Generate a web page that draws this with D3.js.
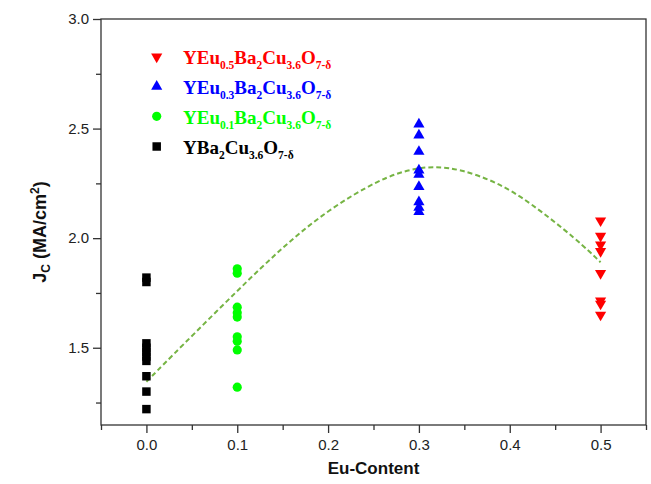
<!DOCTYPE html>
<html><head><meta charset="utf-8">
<script src="https://cdn.jsdelivr.net/npm/d3@7"></script>
<style>body{margin:0;background:#fff}</style>
</head><body>
<svg id="c" width="651" height="484"></svg>
<script>
const xTicks = [0.0, 0.1, 0.2, 0.3, 0.4, 0.5];
const yTicks = [1.5, 2.0, 2.5, 3.0];
const blackX = 0.0;
const blackY = [1.82, 1.80, 1.52, 1.50, 1.48, 1.46, 1.44, 1.37, 1.30, 1.22];
const greenX = 0.1;
const greenY = [1.86, 1.84, 1.685, 1.66, 1.64, 1.55, 1.53, 1.49, 1.32];
const blueX = 0.3;
const blueY = [2.52, 2.47, 2.395, 2.31, 2.29, 2.235, 2.165, 2.14, 2.12];
const redX = 0.5;
const redY = [2.08, 2.01, 1.97, 1.94, 1.84, 1.715, 1.70, 1.65];
const fitX = [0, 0.037, 0.1, 0.15, 0.2, 0.257, 0.293, 0.318, 0.345, 0.385, 0.422, 0.475, 0.5];
const fitY = [1.345, 1.50, 1.76, 1.96, 2.13, 2.27, 2.318, 2.327, 2.315, 2.258, 2.165, 1.99, 1.89];

const svg = d3.select("#c");
const L = 101, R = 646, T = 19, B = 425;
const x = d3.scaleLinear().domain([-0.05, 0.55]).range([L, R]);
const y = d3.scaleLinear().domain([1.1475, 3.0]).range([B, T]);
const axisColor = "#333";

// fit curve
const fit = fitX.map((v, i) => [v, fitY[i]]);
svg.append("path").datum(fit)
  .attr("d", d3.line().x(d => x(d[0])).y(d => y(d[1])).curve(d3.curveBasis))
  .attr("fill", "none").attr("stroke", "#76b444").attr("stroke-width", 2)
  .attr("stroke-dasharray", "5,3");

// axes
const xAxis = d3.axisBottom(x).tickValues(xTicks).tickFormat(d3.format(".1f")).tickSize(8).tickPadding(6);
const xMinor = d3.axisBottom(x).tickValues([-0.05, 0.05, 0.15, 0.25, 0.35, 0.45, 0.55]).tickFormat("").tickSize(5);
const yAxis = d3.axisLeft(y).tickValues(yTicks).tickFormat(d3.format(".1f")).tickSize(8).tickPadding(4);
const yMinor = d3.axisLeft(y).tickValues([1.25, 1.75, 2.25, 2.75]).tickFormat("").tickSize(5);

function style(g) {
  g.select(".domain").remove();
  g.selectAll("line").attr("stroke", axisColor).attr("stroke-width", 1.3);
  g.selectAll("text").attr("fill", "#222").style("font-family", "Arial, 'Liberation Sans', sans-serif").style("font-size", "15px");
}
svg.append("g").attr("transform", `translate(0,${B})`).call(xAxis).call(style);
svg.append("g").attr("transform", `translate(0,${B})`).call(xMinor).call(style);
svg.append("g").attr("transform", `translate(${L},0)`).call(yAxis).call(style);
svg.append("g").attr("transform", `translate(${L},0)`).call(yMinor).call(style);

svg.append("rect").attr("x", L).attr("y", T).attr("width", R - L).attr("height", B - T)
  .attr("fill", "none").attr("stroke", axisColor).attr("stroke-width", 1.3);

// markers
const sq = d3.symbol().type(d3.symbolSquare).size(72)();
const ci = d3.symbol().type(d3.symbolCircle).size(66)();
const tri = d3.symbol().type(d3.symbolTriangle).size(54)();

function plot(xv, ys, path, color, rot) {
  svg.append("g").selectAll("path").data(ys).join("path")
    .attr("d", path)
    .attr("transform", d => `translate(${x(xv)},${y(d)})` + (rot ? " rotate(180)" : ""))
    .attr("fill", color);
}
plot(blackX, blackY, sq, "#000", false);
plot(greenX, greenY, ci, "#00ff00", false);
plot(blueX, blueY, tri, "#0000ff", false);
plot(redX, redY, tri, "#ff0000", true);

// legend
const legend = [
  {path: tri, rot: true, color: "#ff0000", parts: [["YEu",0],["0.5",1],["Ba",0],["2",1],["Cu",0],["3.6",1],["O",0],["7-δ",1]]},
  {path: tri, rot: false, color: "#0000ff", parts: [["YEu",0],["0.3",1],["Ba",0],["2",1],["Cu",0],["3.6",1],["O",0],["7-δ",1]]},
  {path: ci, rot: false, color: "#00ff00", parts: [["YEu",0],["0.1",1],["Ba",0],["2",1],["Cu",0],["3.6",1],["O",0],["7-δ",1]]},
  {path: sq, rot: false, color: "#000", parts: [["YBa",0],["2",1],["Cu",0],["3.6",1],["O",0],["7-δ",1]]}
];
const rowsY = [56.7, 86.5, 116.3, 146.5];
legend.forEach((l, i) => {
  svg.append("path").attr("d", l.path)
    .attr("transform", `translate(156.7,${rowsY[i]})` + (l.rot ? " rotate(180)" : ""))
    .attr("fill", l.color);
  const t = svg.append("text").attr("x", 183).attr("y", rowsY[i] + 7.5)
    .attr("fill", l.color)
    .style("font-family", "'Liberation Serif', 'Times New Roman', serif")
    .style("font-weight", "bold").style("font-size", "19px");
  let prevSub = 0;
  l.parts.forEach(([s, sub]) => {
    const dy = sub === prevSub ? 0 : (sub ? 5 : -5);
    t.append("tspan").attr("dy", dy).style("font-size", sub ? "11.5px" : "19px").text(s);
    prevSub = sub;
  });
});

// axis titles
svg.append("text").attr("x", (L + R) / 2).attr("y", 474).attr("text-anchor", "middle")
  .style("font-family", "Arial, 'Liberation Sans', sans-serif").style("font-weight", "bold")
  .style("font-size", "17px").attr("fill", "#111").text("Eu-Content");

const yl = svg.append("text").attr("transform", "translate(46,232) rotate(-90)").attr("text-anchor", "middle")
  .style("font-family", "Arial, 'Liberation Sans', sans-serif").style("font-weight", "bold")
  .style("font-size", "18px").attr("fill", "#111");
yl.append("tspan").text("J");
yl.append("tspan").attr("dy", 4).style("font-size", "12px").text("C");
yl.append("tspan").attr("dy", -4).text(" (MA/cm");
yl.append("tspan").attr("dy", -7).style("font-size", "12px").text("2");
yl.append("tspan").attr("dy", 7).text(")");
</script>
</body></html>
